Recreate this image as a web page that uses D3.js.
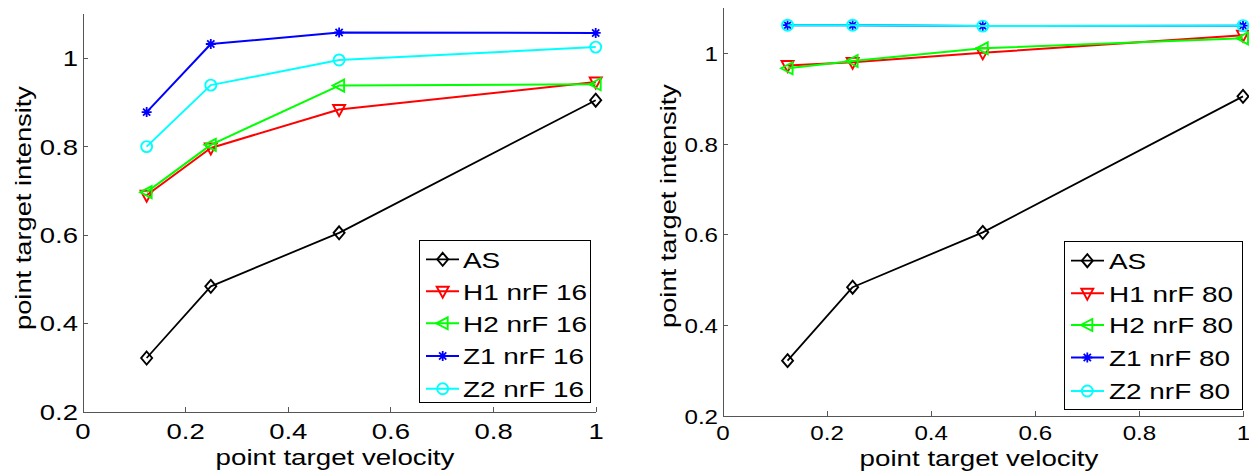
<!DOCTYPE html>
<html>
<head>
<meta charset="utf-8">
<script src="https://cdn.jsdelivr.net/npm/d3@7"></script>
<style>
  html, body { margin: 0; padding: 0; background: #fff; }
  svg { display: block; }
</style>
</head>
<body>
<svg id="chart" width="1249" height="473"></svg>
<script>
// point target velocity (x) for every series
var velocity = [0.125, 0.25, 0.5, 1];

// intensities
var asValues = [0.321, 0.483, 0.604, 0.904];

var h1nrF16 = [0.689, 0.796, 0.883, 0.945];
var h2nrF16 = [0.696, 0.803, 0.937, 0.940];
var z1nrF16 = [0.877, 1.031, 1.057, 1.056];
var z2nrF16 = [0.799, 0.938, 0.995, 1.024];

var h1nrF80 = [0.972, 0.979, 1.000, 1.039];
var h2nrF80 = [0.966, 0.982, 1.010, 1.032];
var z1nrF80 = [1.061, 1.061, 1.059, 1.060];
var z2nrF80 = [1.061, 1.061, 1.059, 1.060];

var legendLeft = ['AS', 'H1 nrF 16', 'H2 nrF 16', 'Z1 nrF 16', 'Z2 nrF 16'];
var legendRight = ['AS', 'H1 nrF 80', 'H2 nrF 80', 'Z1 nrF 80', 'Z2 nrF 80'];

var xTicks = [0, 0.2, 0.4, 0.6, 0.8, 1];
var xTickLabels = ['0', '0.2', '0.4', '0.6', '0.8', '1'];
var yTicks = [0.2, 0.4, 0.6, 0.8, 1];
var yTickLabels = ['0.2', '0.4', '0.6', '0.8', '1'];

var xLabel = 'point target velocity';
var yLabel = 'point target intensity';

// styles, same order as the series
var colors = ['#000000', '#ff0000', '#00ff00', '#0000ff', '#00ffff'];
var markers = ['diamond', 'down', 'left', 'star', 'circle'];

var FONT = '"Liberation Sans", Arial, Helvetica, sans-serif';
var AXIS_COLOR = '#555';

var panels = [
    {
        series: [asValues, h1nrF16, h2nrF16, z1nrF16, z2nrF16],
        names: legendLeft,
        x0: 82.5, x1: 595.7, yBottom: 411.5, yTop: 13.5,
        tickFont: 22, tickSx: 1.25, tickPad: 11.5,
        xLabelX: 335, xLabelY: 464.5, yLabelX: 31, yLabelY: 208,
        legend: {x: 419.5, y: 240.5, w: 171, h: 162, rows: [259.3, 291.3, 323.3, 356, 388.7],
            lx0: 426, lx1: 459, mx: 442.7, tx: 463}
    },
    {
        series: [asValues, h1nrF80, h2nrF80, z1nrF80, z2nrF80],
        names: legendRight,
        x0: 722.5, x1: 1243, yBottom: 415.5, yTop: 7.5,
        tickFont: 21, tickSx: 1.15, tickPad: 10,
        xLabelX: 979, xLabelY: 465.5, yLabelX: 676, yLabelY: 206,
        legend: {x: 1064.5, y: 241.5, w: 178, h: 168, rows: [260.7, 293.3, 325, 357.5, 391],
            lx0: 1071, lx1: 1104, mx: 1087.3, tx: 1109}
    }
];

var svg = d3.select('#chart');

// marker path for one point, centred on 0,0
function markerPath(type) {
    var p = d3.path();
    if(type === 'diamond') {
        p.moveTo(0, -6.5); p.lineTo(5.5, 0); p.lineTo(0, 6.5); p.lineTo(-5.5, 0); p.closePath();
    } else if(type === 'down') {
        p.moveTo(-6, -4.5); p.lineTo(6, -4.5); p.lineTo(0, 6.5); p.closePath();
    } else if(type === 'left') {
        p.moveTo(-6.5, 0); p.lineTo(5, -6); p.lineTo(5, 6); p.closePath();
    } else if(type === 'star') {
        var r = 5, d = 3.6;
        p.moveTo(-r, 0); p.lineTo(r, 0);
        p.moveTo(0, -r); p.lineTo(0, r);
        p.moveTo(-d, -d); p.lineTo(d, d);
        p.moveTo(-d, d); p.lineTo(d, -d);
    } else {
        p.moveTo(5.5, 0); p.arc(0, 0, 5.5, 0, 2 * Math.PI);
    }
    return p.toString();
}

function drawMarker(g, type, color, x, y) {
    g.append('path')
        .attr('d', markerPath(type))
        .attr('transform', 'translate(' + x + ',' + y + ')')
        .attr('fill', 'none')
        .attr('stroke', color)
        .attr('stroke-width', type === 'star' ? 1.8 : 1.9);
}

// stretched text, matlab glyphs are wider than Arial
function stretchedText(g, str, x, y, size, sx, anchor, rotate) {
    g.append('text')
        .attr('transform', 'translate(' + x + ',' + y + ')' + (rotate ? ' rotate(-90)' : '') + ' scale(' + sx + ',1)')
        .attr('text-anchor', anchor)
        .attr('font-family', FONT)
        .attr('font-size', size)
        .attr('fill', '#000')
        .text(str);
}

panels.forEach(function(pn) {
    var x = d3.scaleLinear().domain([0, 1]).range([pn.x0, pn.x1]);
    var y = d3.scaleLinear().domain([0.2, 1.1]).range([pn.yBottom, pn.yTop]);

    var g = svg.append('g');

    // axes, ticks point inward like matlab
    var xAxis = g.append('g')
        .attr('transform', 'translate(0,' + pn.yBottom + ')')
        .call(d3.axisBottom(x)
            .tickValues(xTicks)
            .tickFormat(function(d, i) { return xTickLabels[i]; })
            .tickSize(-5).tickSizeOuter(0).tickPadding(pn.tickPad));

    var yAxis = g.append('g')
        .attr('transform', 'translate(' + pn.x0 + ',0)')
        .call(d3.axisLeft(y)
            .tickValues(yTicks)
            .tickFormat(function(d, i) { return yTickLabels[i]; })
            .tickSize(-5).tickSizeOuter(0).tickPadding(4.5));

    [xAxis, yAxis].forEach(function(ax) {
        ax.attr('font-family', FONT).attr('font-size', pn.tickFont);
        ax.selectAll('path, line').attr('stroke', AXIS_COLOR).attr('stroke-width', 1)
            .attr('shape-rendering', 'crispEdges');
        ax.selectAll('text').attr('fill', '#000');
    });
    xAxis.selectAll('text').attr('transform', 'scale(' + pn.tickSx + ',1)');
    yAxis.selectAll('text')
        .attr('x', -4.5 / pn.tickSx)
        .attr('dy', '0.36em')
        .attr('transform', 'scale(' + pn.tickSx + ',1)');

    // lines then markers, in plot order
    var line = d3.line()
        .x(function(d, i) { return x(velocity[i]); })
        .y(function(d) { return y(d); });

    pn.series.forEach(function(vals, s) {
        var sg = g.append('g');
        sg.append('path')
            .datum(vals)
            .attr('d', line)
            .attr('fill', 'none')
            .attr('stroke', colors[s])
            .attr('stroke-width', s === 0 ? 1.8 : 2)
            .attr('stroke-linejoin', 'round');
        vals.forEach(function(v, i) {
            drawMarker(sg, markers[s], colors[s], x(velocity[i]), y(v));
        });
    });

    // axis titles
    stretchedText(g, xLabel, pn.xLabelX, pn.xLabelY, 22, 1.26, 'middle', false);
    stretchedText(g, yLabel, pn.yLabelX, pn.yLabelY, 22, 1.24, 'middle', true);

    // legend
    var L = pn.legend;
    var lg = g.append('g');
    lg.append('rect')
        .attr('x', L.x).attr('y', L.y)
        .attr('width', L.w).attr('height', L.h)
        .attr('fill', '#fff')
        .attr('stroke', '#000')
        .attr('stroke-width', 1)
        .attr('shape-rendering', 'crispEdges');
    pn.names.forEach(function(name, s) {
        var ry = L.rows[s];
        lg.append('line')
            .attr('x1', L.lx0).attr('x2', L.lx1)
            .attr('y1', ry).attr('y2', ry)
            .attr('stroke', colors[s])
            .attr('stroke-width', s === 0 ? 1.8 : 2);
        drawMarker(lg, markers[s], colors[s], L.mx, ry);
        stretchedText(lg, name, L.tx, ry + 8.2, 22, 1.27, 'start', false);
    });
});
</script>
</body>
</html>
